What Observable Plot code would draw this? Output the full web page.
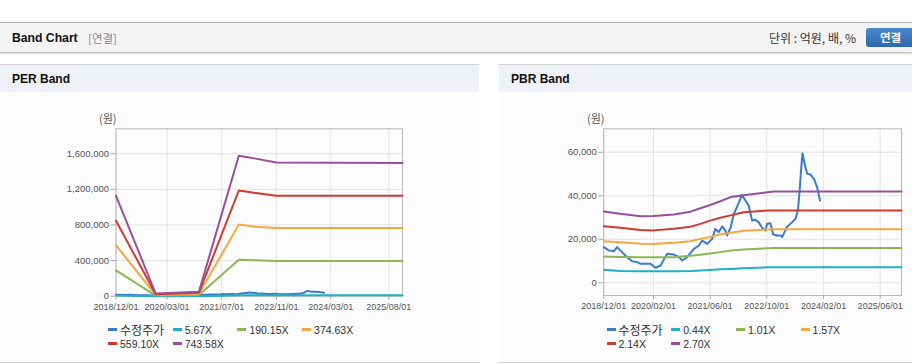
<!DOCTYPE html>
<html><head><meta charset="utf-8">
<script src="https://cdn.jsdelivr.net/npm/d3@7"></script>
<script src="https://cdn.jsdelivr.net/npm/@observablehq/plot@0.6"></script>
<style>
body{margin:0;width:912px;height:364px;overflow:hidden;background:#fff;position:relative;font-family:"Liberation Sans",Arial,sans-serif}
.topbar{position:absolute;left:0;top:22px;width:912px;height:29px;background:#f4f4f4;border-top:1px solid #b4b4b4;border-bottom:1px solid #c4c4c4;box-shadow:0 1px 2px rgba(0,0,0,.18)}
.title{position:absolute;left:12px;top:8px;font-weight:bold;font-size:12.2px;color:#111}
.sub{position:absolute;left:88px;top:7px;font-size:11.5px;color:#8a8a8a;font-family:"Noto Sans CJK KR",sans-serif}
.unit{position:absolute;left:769px;top:6px;font-size:12px;color:#333;font-family:"Noto Sans CJK KR",sans-serif}
.btn{position:absolute;left:866px;top:5px;width:60px;height:19px;border-radius:3px;background:linear-gradient(#4a89cc,#2c68aa);color:#fff;font-weight:bold;font-size:11.5px;font-family:"Noto Sans CJK KR",sans-serif;line-height:19px;padding-left:14px;box-sizing:border-box}
.panel{position:absolute;top:64px;width:479px;height:297px;background:#fcfcfc;border-top:1px solid #d2d2d2;border-bottom:1px solid #d2d2d2}
.phead{position:absolute;left:0;top:0;width:100%;height:27px;background:#eef2f7}
.ptitle{position:absolute;left:12px;top:7px;font-weight:bold;font-size:12px;color:#111}
.unitlab{position:absolute;font-size:11px;color:#555;font-family:"Noto Sans CJK KR",sans-serif}
.chart{position:absolute;top:100px;width:479px;height:220px}
.chart svg{max-width:none !important;width:479px;height:220px}
.legend{position:absolute;display:grid;grid-template-columns:repeat(4,64.7px);row-gap:1px;font-size:10.5px;color:#333}
.item{display:flex;align-items:center;height:13px;white-space:nowrap}
.sw{width:9px;height:2.5px;margin-right:3px}
.ko{font-family:"Noto Sans CJK KR",sans-serif;font-size:12px}
</style></head>
<body>
<div class="topbar">
  <div class="title">Band Chart</div>
  <div class="sub">[연결]</div>
  <div class="unit">단위 : 억원, 배, %</div>
  <div class="btn">연결</div>
</div>
<div class="panel" style="left:0"><div class="phead"><div class="ptitle">PER Band</div></div></div>
<div class="panel" style="left:499px;width:479px"><div class="phead"><div class="ptitle">PBR Band</div></div></div>
<div class="unitlab" style="left:99px;top:110px">(원)</div>
<div class="unitlab" style="left:587px;top:110px">(원)</div>
<div id="per" class="chart" style="left:0"></div>
<div id="pbr" class="chart" style="left:499px"></div>
<div id="perLegend" class="legend" style="left:108px;top:323px"></div>
<div id="pbrLegend" class="legend" style="left:606.5px;top:323px"></div>
<script>
// ---- data ----
const colors = ["#3a7bcc", "#1fb0c8", "#8db657", "#f5a83d", "#cf3a31", "#994f9e"];
const perNames = ["수정주가", "5.67X", "190.15X", "374.63X", "559.10X", "743.58X"];
const pbrNames = ["수정주가", "0.44X", "1.01X", "1.57X", "2.14X", "2.70X"];

const priceDates = ["2018-12-01","2019-01-13","2019-02-25","2019-03-25","2019-05-07","2019-06-19","2019-08-01","2019-09-13","2019-10-13","2020-01-07","2020-02-19","2020-04-01","2020-05-28","2020-07-25","2020-09-07","2020-10-04","2020-11-16","2021-01-13","2021-02-25","2021-03-25","2021-05-07","2021-06-19","2021-07-16","2021-08-13","2021-09-13","2021-10-10","2021-10-25","2021-11-25","2021-12-22","2022-02-04","2022-03-01","2022-04-01","2022-04-28","2022-05-28","2022-06-25","2022-07-22","2022-08-22","2022-09-19","2022-10-04","2022-11-01","2022-11-25","2022-12-28","2023-01-28","2023-02-10","2023-03-22","2023-05-07","2023-06-04","2023-06-25","2023-07-10","2023-07-22","2023-08-04","2023-08-22","2023-09-13","2023-10-10","2023-11-10","2023-12-07","2024-01-01"];
const price = [16400,14900,14500,16400,14100,11800,9900,9500,8700,8700,6900,7950,13300,13000,11800,10250,11800,15600,17150,19450,17900,20200,24800,23300,25900,24000,21750,25500,31700,37000,40400,37800,35500,28600,29000,27900,25300,24000,27100,27400,22200,21750,21750,21000,25600,27900,29400,33200,42400,51600,59600,54700,50100,49800,47800,44000,37800];

const perDates = ["2018-12-01","2019-11-20","2020-12-10","2021-12-01","2022-05-01","2022-11-01","2025-12-01"];
const per567   = [8600, 250, 400, 12000, 11800, 11400, 11400];
const per19015 = [291000, 7000, 13000, 409000, 404000, 395000, 394000];
const per37463 = [571000, 15000, 25000, 804000, 781000, 767000, 766000];
const per55910 = [848000, 22000, 38000, 1187000, 1160000, 1128000, 1127000];
const per74358 = [1128000, 30000, 50000, 1577000, 1545000, 1501000, 1497000];

const pbrDates = ["2018-12-01","2019-04-20","2019-10-13","2020-02-01","2020-07-25","2020-12-15","2021-03-10","2021-06-01","2021-08-28","2021-11-25","2022-03-15","2022-10-04","2022-12-01","2025-12-01"];
const pbr044 = [6000,5400,5300,5300,5300,5400,5700,5900,6200,6400,6700,7100,7100,7100];
const pbr101 = [12100,11900,11700,11700,11800,12400,12900,13500,14100,14800,15300,15900,16000,16000];
const pbr157 = [19100,18600,17900,17800,18400,19100,20200,21100,22300,23000,23900,24500,24600,24600];
const pbr214 = [26000,25300,24300,24100,24800,25800,27100,28600,29900,31000,32400,33200,33200,33200];
const pbr270 = [32800,31700,30600,30700,31400,32700,34300,35800,37500,39400,40300,41600,42000,42000];

const perXTicks = ["2018-12-01","2020-03-01","2021-07-01","2022-11-01","2024-03-01","2025-08-01"];
const pbrXTicks = ["2018-12-01","2020-02-01","2021-06-01","2022-10-01","2024-02-01","2025-06-01"];
const perYTicks = [0, 400000, 800000, 1200000, 1600000];
const pbrYTicks = [0, 20000, 40000, 60000];
const xDomain = ["2018-12-01", "2025-12-01"];

// ---- build ----
const toRows = (dates, vals) => dates.map((d, i) => ({date: new Date(d), value: vals[i]}));
const priceRows = toRows(priceDates, price);

function chart(seriesRows, opts) {
  const marks = [
    Plot.gridX({ticks: opts.xTicks.map(d => new Date(d)), stroke: "#e4e4e4", strokeOpacity: 1}),
    Plot.gridY({ticks: opts.yTicks, stroke: "#e4e4e4", strokeOpacity: 1}),
    Plot.frame({stroke: "#b9b9b9"}),
    Plot.axisX({ticks: opts.xTicks.map(d => new Date(d)), tickFormat: d3.utcFormat("%Y/%m/%d"), tickSize: 4, tickPadding: 3, fontSize: 9, stroke: "#aaa", fill: "#555", label: null}),
    Plot.axisY({ticks: opts.yTicks, tickFormat: d3.format(","), tickSize: 5, tickPadding: 2, fontSize: 9.5, stroke: "#aaa", fill: "#555", label: null})
  ];
  seriesRows.forEach((rows, i) => {
    marks.push(Plot.line(rows, {x: "date", y: "value", stroke: colors[i], strokeWidth: 2, curve: "linear"}));
  });
  return Plot.plot({
    width: 479, height: 220,
    marginLeft: opts.ml, marginRight: 77, marginTop: 28.3, marginBottom: opts.mb,
    style: {background: "transparent", fontFamily: "Liberation Sans, Arial, sans-serif", overflow: "visible"},
    x: {type: "utc", domain: xDomain.map(d => new Date(d))},
    y: {domain: opts.yDomain},
    marks
  });
}

document.getElementById("per").append(chart(
  [priceRows, toRows(perDates, per567), toRows(perDates, per19015), toRows(perDates, per37463), toRows(perDates, per55910), toRows(perDates, per74358)],
  {ml: 115.5, mb: 24.3, yDomain: [0, 1880000], xTicks: perXTicks, yTicks: perYTicks}
));
document.getElementById("pbr").append(chart(
  [priceRows, toRows(pbrDates, pbr044), toRows(pbrDates, pbr101), toRows(pbrDates, pbr157), toRows(pbrDates, pbr214), toRows(pbrDates, pbr270)],
  {ml: 104.3, mb: 25, yDomain: [-5840, 70800], xTicks: pbrXTicks, yTicks: pbrYTicks}
));

function legend(id, names) {
  const el = document.getElementById(id);
  names.forEach((n, i) => {
    const it = document.createElement("div");
    it.className = "item";
    const sw = document.createElement("span");
    sw.className = "sw"; sw.style.background = colors[i];
    const tx = document.createElement("span");
    tx.textContent = n;
    if (/[가-힣]/.test(n)) tx.className = "ko";
    it.append(sw, tx);
    el.append(it);
  });
}
legend("perLegend", perNames);
legend("pbrLegend", pbrNames);
</script>
</body></html>
